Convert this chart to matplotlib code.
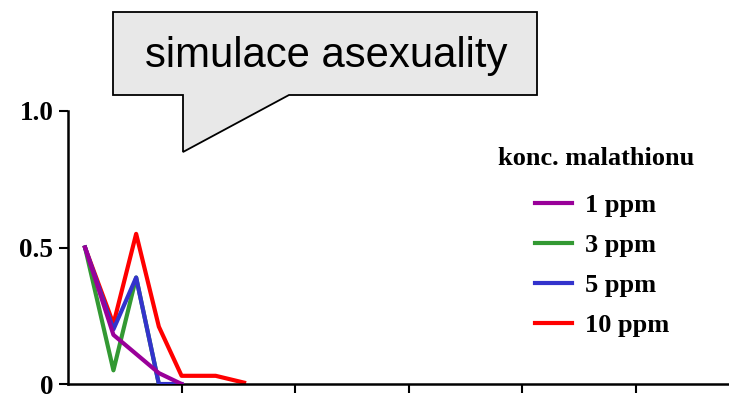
import matplotlib.pyplot as plt
from matplotlib.patches import Polygon

# generations (tick = 10) and share of asexual individuals for each malathion concentration
gen_1ppm = [1.5, 4, 6, 8, 10]
val_1ppm = [0.5, 0.18, 0.11, 0.04, 0.0]
gen_3ppm = [1.5, 4, 6, 8]
val_3ppm = [0.5, 0.05, 0.39, 0.0]
gen_5ppm = [1.5, 4, 6, 8, 10]
val_5ppm = [0.5, 0.2, 0.39, 0.0, 0.0]
gen_10ppm = [1.5, 4, 6, 8, 10, 13, 15.5]
val_10ppm = [0.5, 0.22, 0.55, 0.21, 0.03, 0.03, 0.005]

y_ticks = [0, 0.5, 1.0]
y_labels = ['0', '0.5', '1.0']
x_ticks = [10, 20, 30, 40, 50]

serif_bold = {'family': 'Liberation Serif', 'weight': 'bold', 'size': 19}

fig = plt.figure(figsize=(7.29, 3.95), dpi=100)
ax = fig.add_axes([68/729, 11/395, 661/729, 273/395])

ax.plot(gen_10ppm, val_10ppm, color='#ff0000', lw=3, label='10 ppm', zorder=2)
ax.plot(gen_3ppm, val_3ppm, color='#339933', lw=3, label='3 ppm', zorder=3)
ax.plot(gen_5ppm, val_5ppm, color='#3333cc', lw=3, label='5 ppm', zorder=4)
ax.plot(gen_1ppm, val_1ppm, color='#990099', lw=3, label='1 ppm', zorder=5)

ax.set_xlim(0, 58.2)
ax.set_ylim(0, 1.0)
ax.set_xticks(x_ticks)
ax.set_xticklabels([])
ax.set_yticks(y_ticks)
ax.set_yticklabels(y_labels, fontfamily='Liberation Serif', fontweight='bold', fontsize=19.5)
ax.tick_params(axis='both', direction='out', length=6.5, width=1.5, pad=4)
for s in ['top', 'right']:
    ax.spines[s].set_visible(False)
for s in ['left', 'bottom']:
    ax.spines[s].set_linewidth(1.8)
    ax.spines[s].set_clip_on(False)

# legend in the order 1, 3, 5, 10 ppm, title drawn separately above it
h, l = ax.get_legend_handles_labels()
order = [3, 1, 2, 0]
leg = ax.legend([h[i] for i in order], [l[i] for i in order],
                frameon=False, borderpad=0, borderaxespad=0, prop=serif_bold,
                handlelength=1.4, handletextpad=0.5, labelspacing=0.62,
                loc='upper left', bbox_to_anchor=(535/729, 1 - 194/395),
                bbox_transform=fig.transFigure)
fig.text(596/729, 1 - 159/395, 'konc. malathionu', fontdict=serif_bold,
         ha='center', va='center')

# speech bubble with the title
bubble = [(113, 12), (537, 12), (537, 95), (289, 95), (183, 152), (183, 95), (113, 95)]
fig.patches.append(Polygon([(x/729, 1 - y/395) for x, y in bubble], closed=True,
                           facecolor='#e8e8e8', edgecolor='black', lw=1.3,
                           transform=fig.transFigure, figure=fig))
fig.text(326/729, 1 - 56/395, 'simulace asexuality', fontfamily='Liberation Sans',
         fontsize=30.2, ha='center', va='center')

fig.savefig('out.png', dpi=100)
